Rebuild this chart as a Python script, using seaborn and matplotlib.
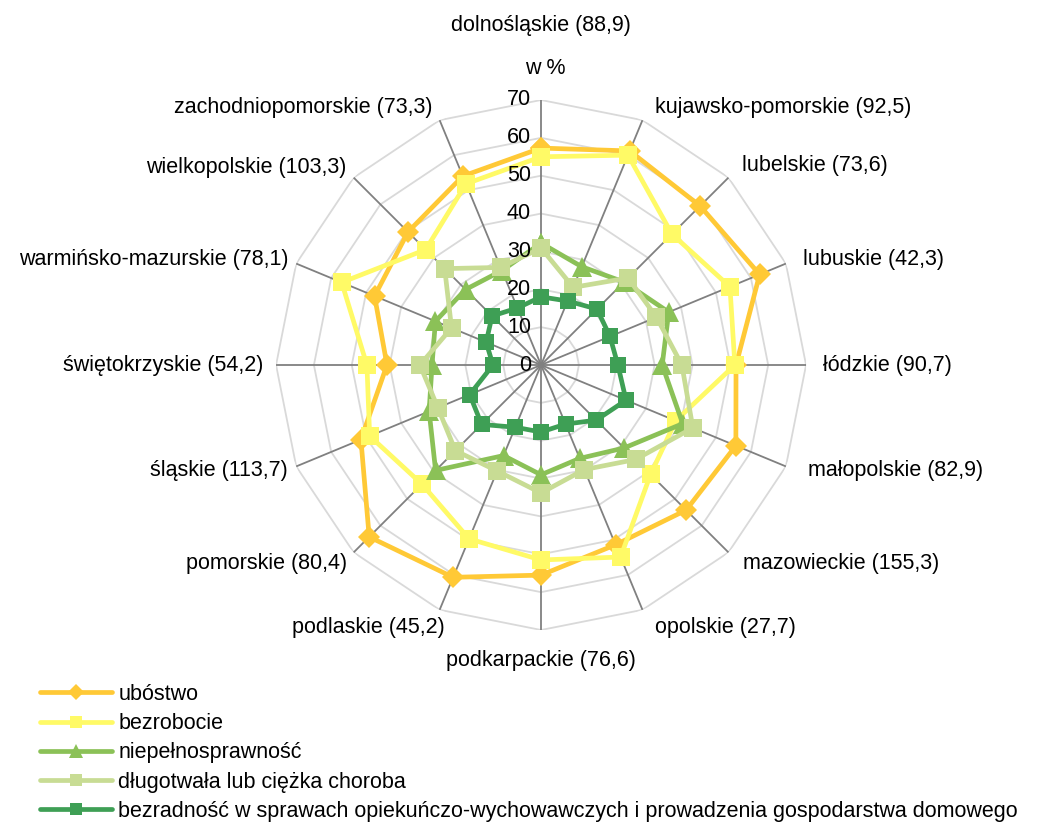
import numpy as np
import pandas as pd
import matplotlib
matplotlib.use("Agg")
import matplotlib.pyplot as plt
from matplotlib.lines import Line2D
import seaborn as sns

categories = ["dolnośląskie (88,9)", "kujawsko-pomorskie (92,5)", "lubelskie (73,6)",
              "lubuskie (42,3)", "łódzkie (90,7)", "małopolskie (82,9)",
              "mazowieckie (155,3)", "opolskie (27,7)", "podkarpackie (76,6)",
              "podlaskie (45,2)", "pomorskie (80,4)", "śląskie (113,7)",
              "świętokrzyskie (54,2)", "warmińsko-mazurskie (78,1)",
              "wielkopolskie (103,3)", "zachodniopomorskie (73,3)"]

series_names = ["ubóstwo", "bezrobocie", "niepełnosprawność",
                "długotwała lub ciężka choroba",
                "bezradność w sprawach opiekuńczo-wychowawczych i prowadzenia gospodarstwa domowego"]

ubostwo = [57.3, 61.2, 59.4, 62.5, 51.5, 55.7, 54.2, 51.4, 55.5, 60.7, 64.2, 51.5, 40.7, 47.6, 49.7, 54.0]
bezrobocie = [55.0, 60.0, 48.9, 54.0, 51.2, 38.5, 40.9, 54.9, 51.5, 49.7, 44.5, 49.0, 46.0, 57.0, 43.1, 51.8]
niepelnosprawnosc = [32.2, 28.1, 31.0, 36.5, 32.0, 40.5, 31.0, 26.7, 29.0, 25.9, 39.4, 32.0, 28.8, 30.2, 28.2, 27.0]
choroba = [30.9, 22.2, 32.5, 33.0, 37.2, 43.4, 35.3, 29.9, 33.8, 30.3, 32.0, 29.5, 32.0, 25.6, 36.0, 27.9]
bezradnosc = [18.0, 18.3, 20.9, 19.7, 20.3, 24.3, 20.6, 16.9, 17.7, 17.8, 22.2, 20.4, 12.7, 15.7, 18.3, 16.3]

r_ticks = [0, 10, 20, 30, 40, 50, 60, 70]

colors = ["#FFC936", "#FFFA66", "#8BC157", "#C8DC94", "#3E9F55"]
markers = ["D", "s", "^", "s", "s"]
msizes = [11, 13, 14, 13, 12]

sns.set_theme(style="white")
plt.rcParams["font.family"] = ["Liberation Sans", "DejaVu Sans"]
plt.rcParams["text.color"] = "black"

FS = 15.5

n = len(categories)
theta = np.arange(n) * 2 * np.pi / n

all_vals = [ubostwo, bezrobocie, niepelnosprawnosc, choroba, bezradnosc]
rows = []
for name, vals in zip(series_names, all_vals):
    for i in list(range(n)) + [0]:
        rows.append({"series": name, "theta": theta[i], "value": vals[i]})
df = pd.DataFrame(rows)

fig = plt.figure(figsize=(10.37, 8.23), dpi=100)
ax = fig.add_axes([0.2662, 0.2345, 0.5111, 0.644], projection="polar")
ax.set_theta_zero_location("N")
ax.set_theta_direction(-1)
ax.grid(False)
ax.spines["polar"].set_visible(False)
ax.set_xticks([])
ax.set_yticks([])

# polygon grid
closed = np.append(theta, theta[0])
for rv in r_ticks[1:]:
    ax.plot(closed, [rv] * (n + 1), color="#D9D9D9", lw=1.3, zorder=1)
for t in theta:
    ax.plot([t, t], [0, r_ticks[-1]], color="#808080", lw=1.3, zorder=1.5)

for k, name in enumerate(series_names):
    sub = df[df["series"] == name]
    sns.lineplot(data=sub, x="theta", y="value", sort=False, estimator=None,
                 color=colors[k], marker=markers[k], markersize=msizes[k],
                 markeredgewidth=0, linewidth=3.4, ax=ax, legend=False, zorder=3 + k)

ax.set_ylim(0, 70)
ax.set_xlabel("")
ax.set_ylabel("")

# radial tick labels
for rv in r_ticks:
    ax.annotate(str(rv), xy=(0, rv), xytext=(-10, 0), textcoords="offset pixels",
                ha="right", va="center", fontsize=FS, color="#000000", zorder=10)
ax.annotate("w %", xy=(0, 70), xytext=(4, 31), textcoords="offset pixels",
            ha="center", va="center", fontsize=FS, color="#000000")

offsets = [(0, 74, "center"), (13, 13, "left"), (14, 12, "left"), (17, 4, "left"),
           (17, 0, "left"), (22, -4, "left"), (15, -11, "left"), (13, -18, "left"),
           (0, -30, "center"), (5, -18, "right"), (-7, -11, "right"), (-8, -4, "right"),
           (-13, 0, "right"), (-8, 4, "right"), (-7, 10, "right"), (-7, 13, "right")]
for t, lab, (dx, dy, ha) in zip(theta, categories, offsets):
    ax.annotate(lab, xy=(t, 70), xytext=(dx, dy), textcoords="offset pixels",
                ha=ha, va="center", fontsize=FS, color="#000000", annotation_clip=False)

handles = [Line2D([0], [0], color=c, marker=m, markersize=ms * 0.7, markeredgewidth=0, lw=3.4)
           for c, m, ms in zip(colors, markers, msizes)]
fig.legend(handles, series_names, loc="upper left", bbox_to_anchor=(0.0386, 1 - 684 / 823),
           frameon=False, fontsize=FS, handlelength=3.35, handletextpad=0.28,
           labelspacing=0.38, borderaxespad=0, borderpad=0, labelcolor="black")

fig.savefig("out.png", dpi=100)
